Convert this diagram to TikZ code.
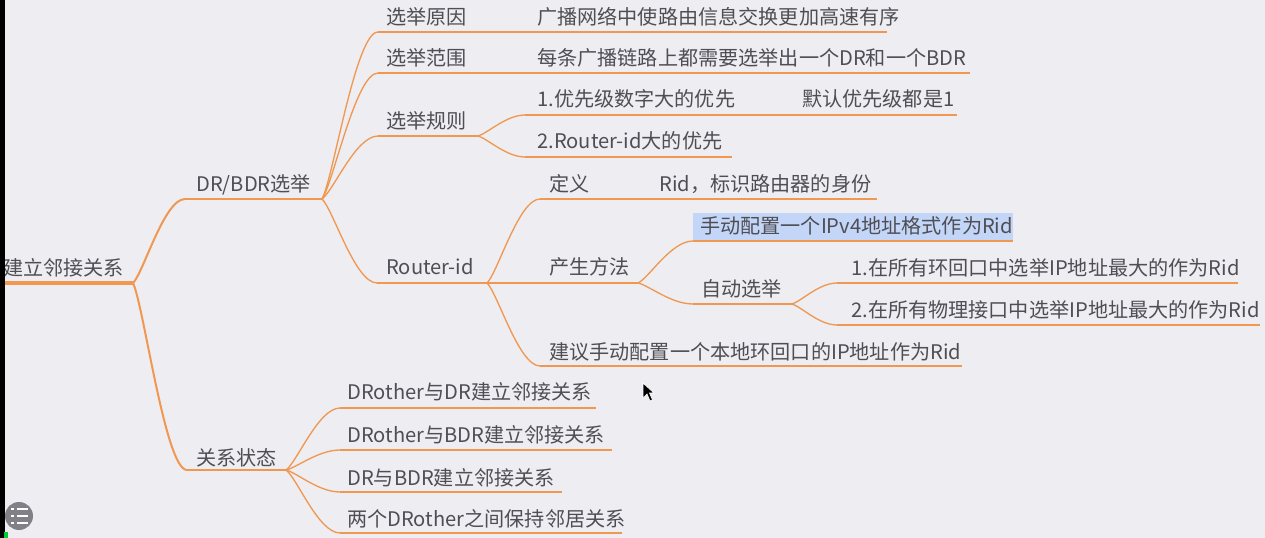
\documentclass[tikz,border=0pt]{standalone}
\usepackage{fontspec}
\setmainfont{Noto Sans CJK SC}
\usetikzlibrary{calc}
\definecolor{bg}{RGB}{238,237,241}
\definecolor{org}{RGB}{240,152,82}
\definecolor{txt}{RGB}{78,78,84}
\definecolor{hl}{RGB}{196,214,248}
\definecolor{btn}{RGB}{128,128,134}
\tikzset{
 lbl/.style={anchor=base west, inner sep=0pt, text=txt, font=\fontsize{15.1}{17}\selectfont},
 ln0/.style={draw=org, line width=2.3pt},
 ln1/.style={draw=org, line width=1.5pt},
 ln2/.style={draw=org, line width=1.0pt},
}
\newcommand\curv[3][ln2]{\draw[#1] let \p1=(#2), \p2=(#3) in (\p1) .. controls ({\x1+0.2*(\x2-\x1)},{\y1+0.12*(\y2-\y1)}) and ({\x2-0.4*(\x2-\x1)},{\y2}) .. (\p2);}
\begin{document}
\begin{tikzpicture}[x=0.75pt,y=-0.75pt]
\useasboundingbox (0,0) rectangle (1265,538);
\fill[bg] (0,0) rectangle (1265,538);

% ---------- coordinates of underlines ----------
\coordinate (rootL) at (0,283);   \coordinate (rootR) at (133,283);
\coordinate (drL) at (185,199);   \coordinate (drR) at (322,199);
\coordinate (yyL) at (378,32);    \coordinate (gbL) at (530,32);  \coordinate (gbR) at (887,32);
\coordinate (fwL) at (378,73);    \coordinate (mtL) at (530,73);  \coordinate (mtR) at (970,73);
\coordinate (gzL) at (378,136);   \coordinate (gzR) at (478,136);
\coordinate (p1L) at (525,115);   \coordinate (mrL) at (795,115); \coordinate (mrR) at (957,115);
\coordinate (p2L) at (525,157);   \coordinate (p2R) at (732,157);
\coordinate (riL) at (377,283);   \coordinate (riR) at (487,283);
\coordinate (dyL) at (540,199);   \coordinate (rdL) at (652,199); \coordinate (rdR) at (877,199);
\coordinate (csL) at (540,283);   \coordinate (csR) at (638,283);
\coordinate (sdL) at (693,241);   \coordinate (sdR) at (1013,241);
\coordinate (zdL) at (693,304);   \coordinate (zdR) at (792,304);
\coordinate (a1L) at (837,283);   \coordinate (a1R) at (1238,283);
\coordinate (a2L) at (837,325);   \coordinate (a2R) at (1260,325);
\coordinate (jyL) at (540,366);   \coordinate (jyR) at (962,366);
\coordinate (gxL) at (187,470);   \coordinate (gxR) at (286,470);
\coordinate (s1L) at (340,408);   \coordinate (s1R) at (596,408);
\coordinate (s2L) at (340,450);   \coordinate (s2R) at (612,450);
\coordinate (s3L) at (340,492);   \coordinate (s3R) at (562,492);
\coordinate (s4L) at (340,533);   \coordinate (s4R) at (622,533);

% highlight
\fill[hl] (693,213) rectangle (1013,241);

% ---------- underlines ----------
\draw[ln0] (rootL) -- (rootR);
\draw[ln1] (drL) -- (drR);
\draw[ln1] (gxL) -- (gxR);
\draw[ln2] (yyL) -- (gbL) -- (gbR);
\draw[ln2] (fwL) -- (mtL) -- (mtR);
\draw[ln2] (gzL) -- (gzR);
\draw[ln2] (p1L) -- (mrL) -- (mrR);
\draw[ln2] (p2L) -- (p2R);
\draw[ln2] (riL) -- (riR);
\draw[ln2] (dyL) -- (rdL) -- (rdR);
\draw[ln2] (csL) -- (csR);
\draw[ln2] (sdL) -- (sdR);
\draw[ln2] (zdL) -- (zdR);
\draw[ln2] (a1L) -- (a1R);
\draw[ln2] (a2L) -- (a2R);
\draw[ln2] (jyL) -- (jyR);
\draw[ln2] (s1L) -- (s1R);
\draw[ln2] (s2L) -- (s2R);
\draw[ln2] (s3L) -- (s3R);
\draw[ln2] (s4L) -- (s4R);

% ---------- connectors ----------
\curv[ln1]{rootR}{drL}
\curv[ln1]{rootR}{gxL}
\curv{drR}{yyL}
\curv{drR}{fwL}
\curv{drR}{gzL}
\curv{drR}{riL}
\curv{gzR}{p1L}
\curv{gzR}{p2L}
\curv{riR}{dyL}
\curv{riR}{csL}
\curv{riR}{jyL}
\curv{csR}{sdL}
\curv{csR}{zdL}
\curv{zdR}{a1L}
\curv{zdR}{a2L}
\curv{gxR}{s1L}
\curv{gxR}{s2L}
\curv{gxR}{s3L}
\curv{gxR}{s4L}

% ---------- texts ----------
\node[lbl] (root) at (3,276) {建立邻接关系};
\node[lbl] (dr) at (196,192) {DR/BDR选举};
\node[lbl] (yy) at (386,25) {选举原因};
\node[lbl] (gb) at (537,25) {广播网络中使路由信息交换更加高速有序};
\node[lbl] (fw) at (386,66) {选举范围};
\node[lbl] (mt) at (537,66) {每条广播链路上都需要选举出一个DR和一个BDR};
\node[lbl] (gz) at (386,129) {选举规则};
\node[lbl] (p1) at (537,107) {1.优先级数字大的优先};
\node[lbl] (mr) at (802,107) {默认优先级都是1};
\node[lbl] (p2) at (537,149) {2.Router-id大的优先};
\node[lbl] (ri) at (386,275) {Router-id};
\node[lbl] (dy) at (549,192) {定义};
\node[lbl] (rd) at (659,192) {Rid，标识路由器的身份};
\node[lbl] (cs) at (549,275) {产生方法};
\node[lbl] (sd) at (700,234) {手动配置一个IPv4地址格式作为Rid};
\node[lbl] (zd) at (701,297) {自动选举};
\node[lbl] (a1) at (851,276) {1.在所有环回口中选举IP地址最大的作为Rid};
\node[lbl] (a2) at (851,318) {2.在所有物理接口中选举IP地址最大的作为Rid};
\node[lbl] (jy) at (549,360) {建议手动配置一个本地环回口的IP地址作为Rid};
\node[lbl] (gx) at (196,465) {关系状态};
\node[lbl] (s1) at (347,400) {DRother与DR建立邻接关系};
\node[lbl] (s2) at (347,443) {DRother与BDR建立邻接关系};
\node[lbl] (s3) at (347,485) {DR与BDR建立邻接关系};
\node[lbl] (s4) at (347,527) {两个DRother之间保持邻居关系};

% ---------- screen decorations ----------
\fill[btn] (19,516) circle (14);
\foreach \yy in {509,516,523}{
  \fill[white] (11,\yy-1) rectangle (14,\yy+1);
  \fill[white] (17,\yy-1) rectangle (28,\yy+1);
}
\fill[black] (0,0) rectangle (5,538);
\fill[green!60!teal] (4,532) rectangle (8,538);
\filldraw[fill=black, draw=white, line width=0.5pt] (643,383) -- (643,398) -- (647,394) -- (650,401) -- (652.5,400) -- (649.5,393) -- (654,393) -- cycle;
\end{tikzpicture}
\end{document}
